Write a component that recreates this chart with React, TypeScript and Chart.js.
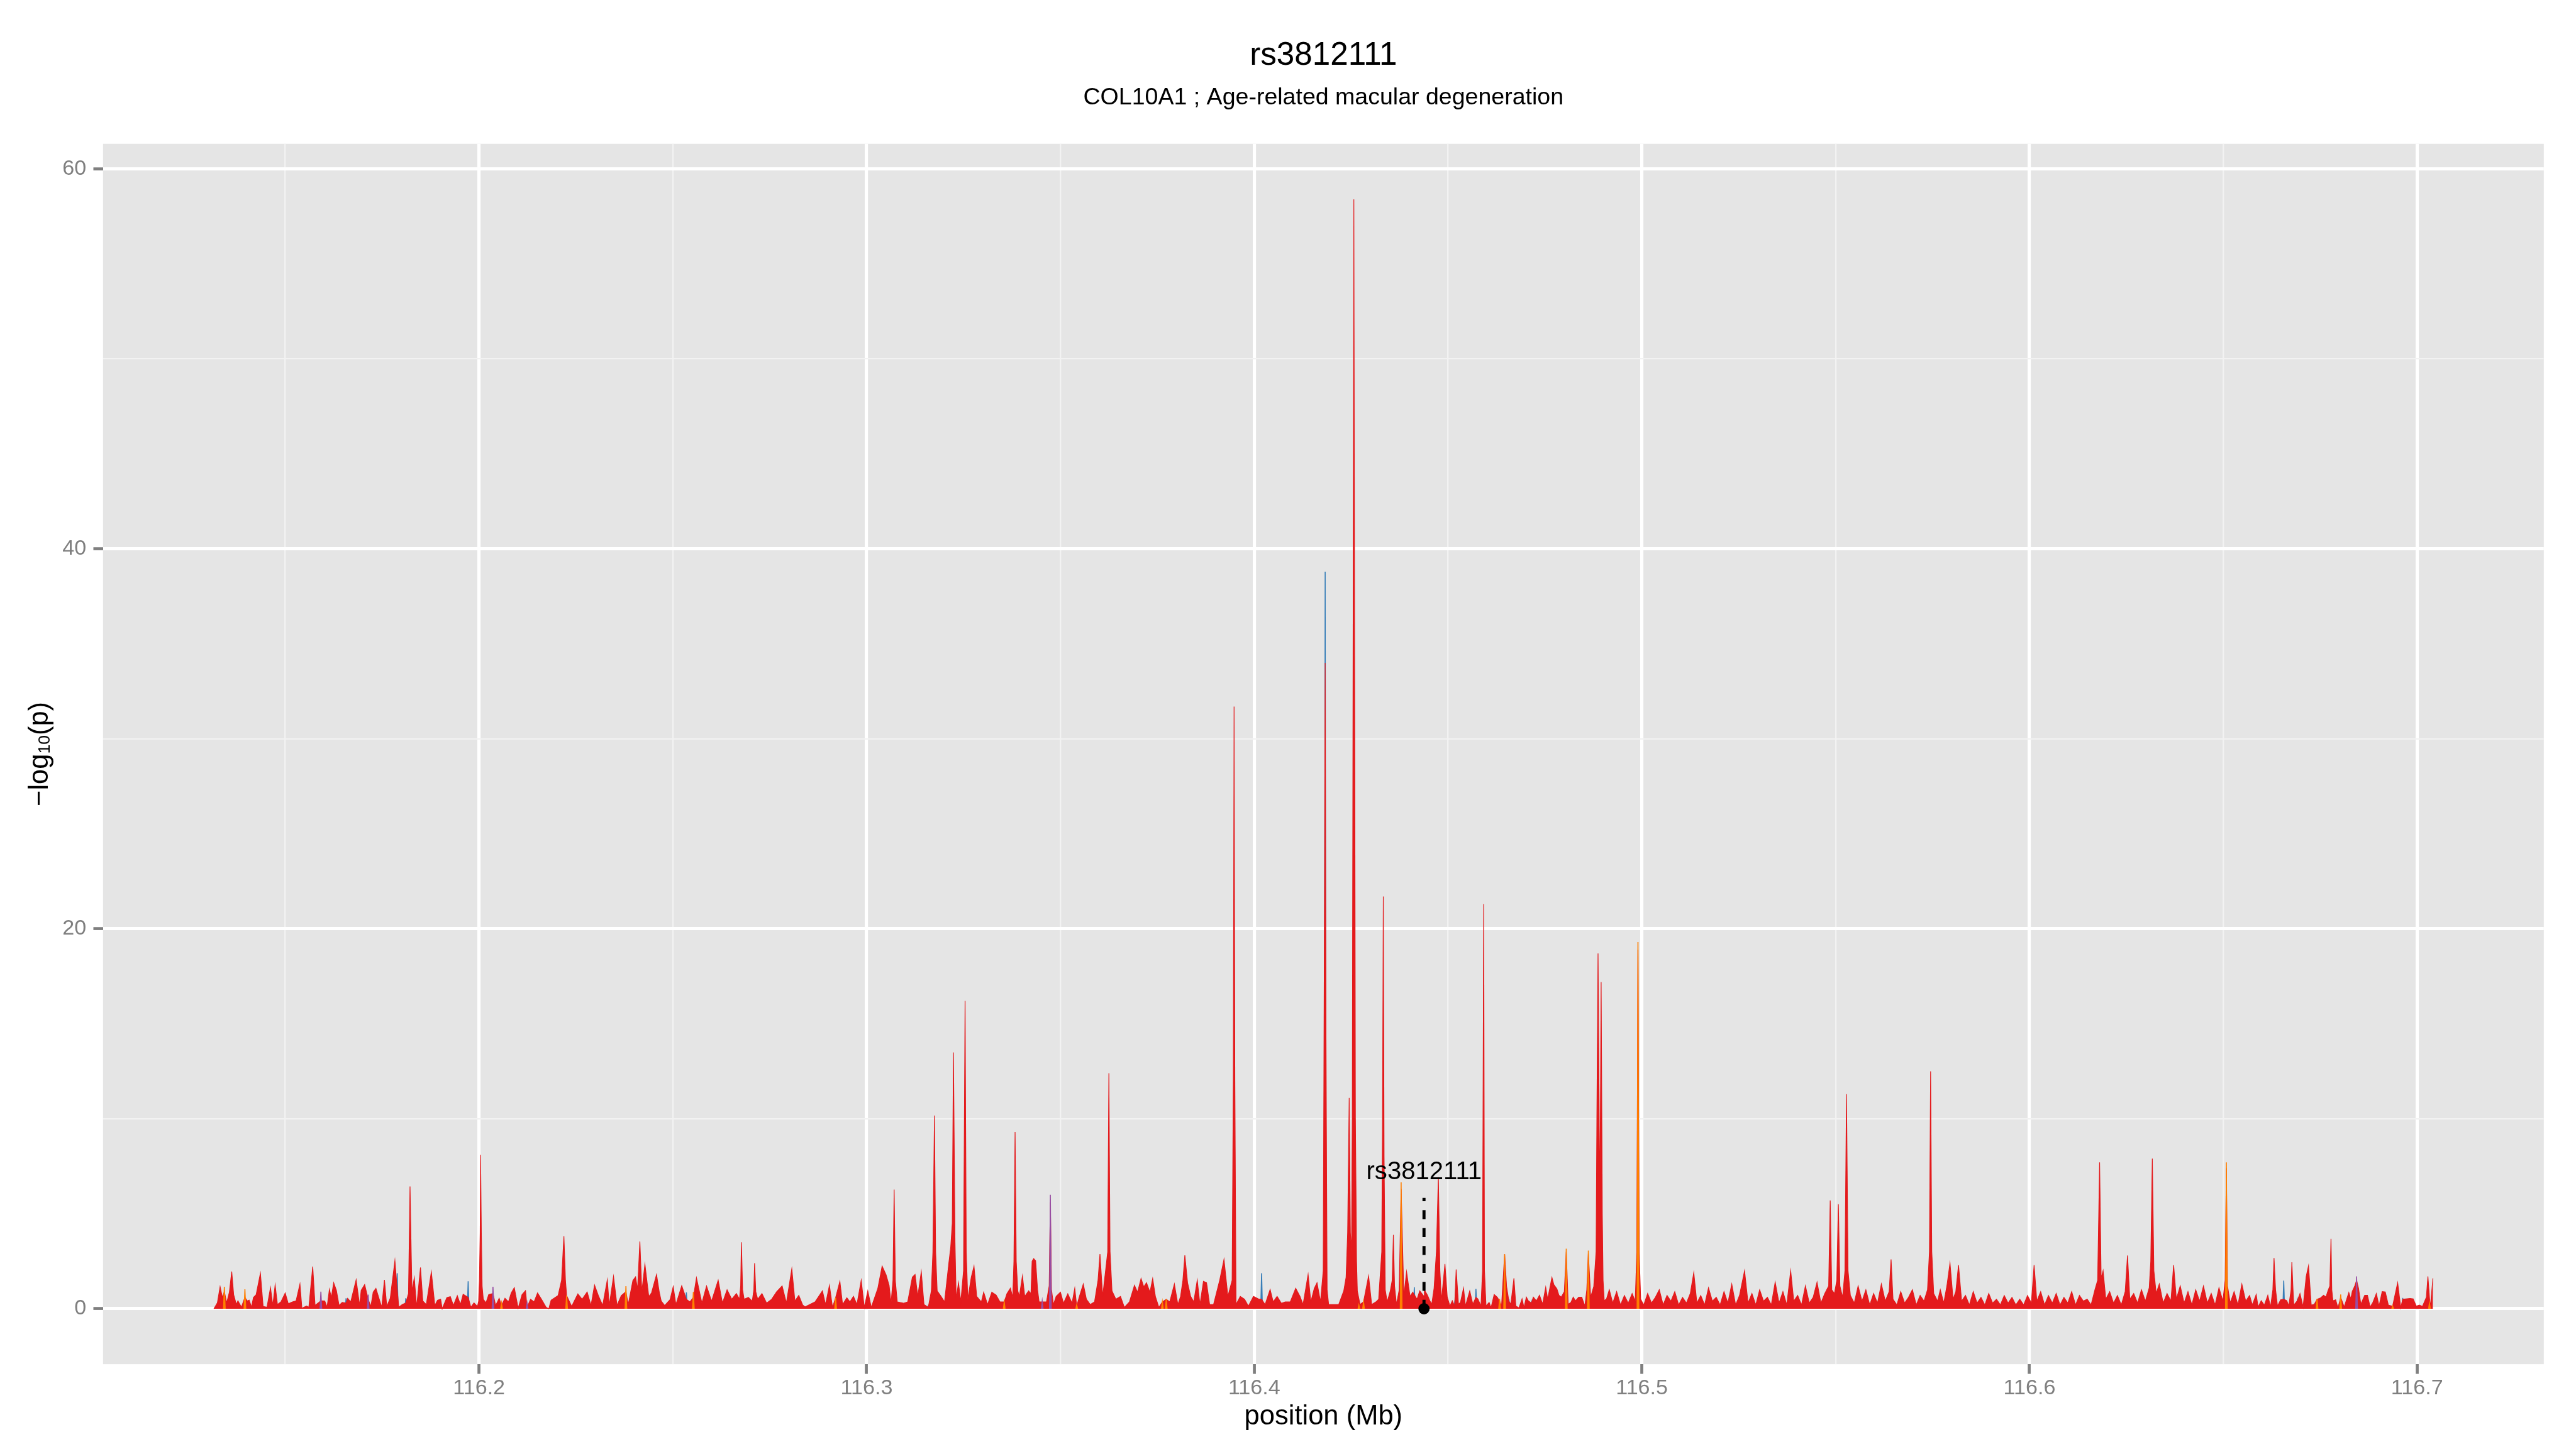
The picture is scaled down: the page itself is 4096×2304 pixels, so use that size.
import React, { useEffect, useRef } from "react";
import { Chart, registerables } from "chart.js";

Chart.register(...registerables);

// ---------- text ----------
const TITLE = "rs3812111";
const SUBTITLE = "COL10A1 ; Age-related macular degeneration";
const X_TITLE = "position (Mb)";
const Y_TITLE_MAIN = "\u2212log";
const Y_TITLE_SUB = "10";
const Y_TITLE_END = "(p)";

// ---------- axes ----------
const xMajorTicks = [116.2, 116.3, 116.4, 116.5, 116.6, 116.7];
const xMinorTicks = [116.15, 116.25, 116.35, 116.45, 116.55, 116.65];
const yMajorTicks = [0, 20, 40, 60];
const yMinorTicks = [10, 30, 50];
const xLimits = [116.103, 116.7327];
const yLimits = [-2.92, 61.32];

// ---------- highlighted SNP ----------
const snpName = "rs3812111";
const snpPos = 116.4438;
const snpLineTop = 5.83;
const snpLabelY = 6.82;

// ---------- main (red) series: position (Mb) and -log10(p) ----------
const redPos = [
  116.1316, 116.1325, 116.1332, 116.1338, 116.1343, 116.1349, 116.1356, 116.1362, 116.1367, 116.1374,
  116.1378, 116.1387, 116.1396, 116.1402, 116.1407, 116.1413, 116.1418, 116.1425, 116.1436, 116.1443,
  116.1453, 116.1462, 116.1468, 116.1474, 116.148, 116.1489, 116.15, 116.1508, 116.1519, 116.1528,
  116.1538, 116.1543, 116.1555, 116.1561, 116.1571, 116.1577, 116.1592, 116.1602, 116.1608, 116.1614,
  116.1619, 116.1625, 116.1632, 116.1639, 116.1647, 116.1657, 116.1661, 116.1669, 116.1683, 116.1692,
  116.1696, 116.1705, 116.1714, 116.1721, 116.1727, 116.1734, 116.1749, 116.1756, 116.1762, 116.1771,
  116.1783, 116.1789, 116.1793, 116.1802, 116.1811, 116.1818, 116.182, 116.1822, 116.1825, 116.1827,
  116.1833, 116.1839, 116.1849, 116.1855, 116.1864, 116.1877, 116.1886, 116.1893, 116.1901, 116.1905,
  116.1917, 116.1926, 116.1934, 116.1944, 116.1952, 116.1959, 116.1972, 116.1979, 116.1987, 116.1996,
  116.1999, 116.2001, 116.2003, 116.2004, 116.2006, 116.2008, 116.2011, 116.2018, 116.2025, 116.2036,
  116.2043, 116.2052, 116.2058, 116.2067, 116.2076, 116.2083, 116.2091, 116.2101, 116.2111, 116.212,
  116.2124, 116.2133, 116.2142, 116.2151, 116.2161, 116.2173, 116.218, 116.2186, 116.2204, 116.2213,
  116.2219, 116.2223, 116.2226, 116.2239, 116.2255, 116.2266, 116.2279, 116.2289, 116.2298, 116.2308,
  116.2319, 116.2331, 116.2336, 116.2347, 116.2356, 116.2367, 116.2379, 116.2385, 116.2397, 116.2404,
  116.2409, 116.2415, 116.242, 116.2428, 116.2438, 116.2445, 116.2458, 116.2465, 116.247, 116.2479,
  116.2493, 116.2501, 116.2508, 116.2523, 116.2535, 116.2544, 116.2553, 116.2561,
  116.2575, 116.2587, 116.26, 116.2617, 116.2628, 116.264, 116.2652, 116.2664, 116.2672, 116.2675,
  116.2677, 116.268, 116.2684, 116.2695, 116.2705, 116.2709, 116.2711, 116.2714, 116.2719, 116.273,
  116.2742, 116.2755, 116.2768, 116.2782, 116.2793, 116.2807, 116.2815, 116.2825, 116.2835,
  116.2841, 116.2867, 116.2886, 116.2894, 116.2904, 116.2912, 116.292, 116.2931, 116.2938, 116.2949,
  116.2957, 116.2966, 116.2975, 116.2986, 116.2994, 116.3003, 116.3012, 116.3029, 116.304, 116.305,
  116.3058, 116.3063, 116.3068, 116.3071, 116.3074, 116.3079, 116.3095, 116.3106, 116.3118, 116.3125,
  116.3132, 116.3141, 116.3148, 116.3159, 116.3167, 116.3171, 116.3175, 116.3178, 116.3182, 116.3192,
  116.3201, 116.3212, 116.3217, 116.3221, 116.3224, 116.3228, 116.3231, 116.3237, 116.3243, 116.325,
  116.3254, 116.3257, 116.3261, 116.327, 116.3277, 116.3284, 116.3296, 116.3302, 116.3312, 116.3323,
  116.3334, 116.3344, 116.3355, 116.3362, 116.3371, 116.3377, 116.338, 116.3383, 116.3386, 116.339,
  116.3394, 116.3402, 116.3408, 116.3418, 116.3424, 116.3427, 116.3431, 116.3436, 116.3441, 116.3445,
  116.3453, 116.3464, 116.3471, 116.3474, 116.3477, 116.3482, 116.3489, 116.35, 116.3508, 116.3519,
  116.353, 116.3537, 116.3542, 116.3549, 116.3559, 116.3567, 116.3577, 116.3588, 116.3597, 116.3602,
  116.3609, 116.3622, 116.3625, 116.3628, 116.3633, 116.3643, 116.3655, 116.3665, 116.3678, 116.3691,
  116.3699, 116.3708, 116.3715, 116.3722, 116.3731, 116.3738, 116.3745, 116.3754, 116.3763, 116.3773,
  116.3782, 116.3794, 116.3803, 116.381, 116.3816, 116.3821, 116.3828, 116.3836, 116.3844, 116.3853,
  116.386, 116.3869, 116.3877, 116.3885, 116.3895, 116.3911, 116.3922, 116.3932, 116.3943, 116.3946,
  116.3948, 116.395, 116.3953, 116.3964, 116.3975, 116.3985, 116.3998, 116.4012, 116.4019, 116.4028,
  116.4041, 116.4049, 116.4059, 116.407, 116.408, 116.4093, 116.4107, 116.4118, 116.4126, 116.4139,
  116.4146, 116.4155, 116.4162, 116.4171, 116.4178, 116.4181, 116.4183, 116.4185, 116.4188, 116.4192,
  116.4204, 116.4218, 116.4231, 116.4237, 116.4241, 116.4245, 116.4248, 116.4251, 116.4253, 116.4257,
  116.4261, 116.4264, 116.4266, 116.4273, 116.4282, 116.4295, 116.4303, 116.4314, 116.4321, 116.4329,
  116.4331, 116.4333, 116.4335, 116.4338, 116.4343, 116.4351, 116.4356, 116.4359, 116.4362, 116.4367,
  116.4374, 116.4379, 116.4386, 116.4393, 116.4402, 116.4409, 116.442, 116.4427, 116.4438,
  116.4439, 116.4447, 116.4453, 116.4458, 116.4464, 116.447, 116.4475, 116.4479, 116.4483, 116.4492,
  116.4498, 116.4505, 116.4511, 116.4517, 116.4521, 116.4527, 116.4532, 116.454, 116.4545, 116.4556,
  116.4564, 116.4572, 116.4577, 116.4585, 116.4589, 116.4592, 116.4594, 116.4598, 116.4606, 116.4611,
  116.4619, 116.4627, 116.4633, 116.4638, 116.4646, 116.4651, 116.4657, 116.4662, 116.467, 116.4675,
  116.4683, 116.4691, 116.4696, 116.4702, 116.4707, 116.4715, 116.472, 116.4728, 116.4736, 116.4744,
  116.4752, 116.4757, 116.4768, 116.4773, 116.4781, 116.4786, 116.4792, 116.48, 116.4805, 116.481,
  116.4817, 116.4823, 116.4829, 116.4837, 116.4845, 116.4853, 116.4858, 116.4862, 116.4868, 116.4876,
  116.4882, 116.4884, 116.4887, 116.489, 116.4891, 116.4893, 116.4895, 116.4898, 116.49, 116.4903,
  116.4909, 116.4916,
  116.4925, 116.4935, 116.4945, 116.4955, 116.4965, 116.4975, 116.4983, 116.4987, 116.499, 116.4993,
  116.4997, 116.5005, 116.5015, 116.5025, 116.5035, 116.5045, 116.5055, 116.5065, 116.5075, 116.5085,
  116.5095, 116.5105, 116.5115, 116.5125, 116.5134, 116.5142, 116.5152, 116.5162, 116.5172, 116.5182,
  116.5192, 116.5202, 116.5212, 116.5222, 116.5232, 116.5242, 116.5252, 116.5265, 116.5274, 116.5284,
  116.5294, 116.5304, 116.5314, 116.5324, 116.5334, 116.5344, 116.5354, 116.5364, 116.5374, 116.5384,
  116.5392, 116.5402, 116.5412, 116.5422, 116.5432, 116.5442, 116.5452, 116.5462, 116.5472, 116.5482,
  116.5486, 116.549, 116.5497, 116.5503, 116.5507, 116.5511, 116.5518, 116.5524, 116.5528, 116.5532,
  116.5538, 116.5548, 116.5558, 116.5568, 116.5578, 116.5588, 116.5598, 116.5608, 116.5618, 116.5628,
  116.5638, 116.5643, 116.5648, 116.5658, 116.5668, 116.5678, 116.5688, 116.5698, 116.5708, 116.5718,
  116.5728, 116.5737, 116.5742, 116.5745, 116.5748, 116.5753, 116.5763, 116.577, 116.5779, 116.5787,
  116.5795, 116.5803, 116.581, 116.5817, 116.5825, 116.5835, 116.5845, 116.5855, 116.5865, 116.5875,
  116.5885, 116.5895, 116.5905, 116.5915, 116.5925, 116.5935, 116.5945, 116.5955, 116.5965, 116.5975,
  116.5985, 116.5995, 116.6005, 116.6012, 116.6019, 116.6029, 116.6039, 116.6049, 116.6059, 116.6069,
  116.6079, 116.6089, 116.6099, 116.6109, 116.6119, 116.6129, 116.6139, 116.6149, 116.6159, 116.6169,
  116.6176, 116.6181, 116.6185, 116.619, 116.6197, 116.6207, 116.6217, 116.6227, 116.6237, 116.6247,
  116.6253, 116.6259, 116.6269, 116.6279, 116.6289, 116.6299, 116.6309, 116.6313, 116.6317, 116.6321,
  116.6327, 116.6335, 116.6345, 116.6355, 116.6365, 116.6372, 116.6379, 116.6389, 116.6399, 116.6409,
  116.6419, 116.6429, 116.6439, 116.6449, 116.6459, 116.6469, 116.6479, 116.6489, 116.6499, 116.6505,
  116.6508, 116.6511, 116.6518, 116.6528, 116.6538, 116.6548, 116.6558, 116.6568, 116.6575,
  116.6585, 116.659, 116.6598, 116.6606, 116.6615, 116.6622, 116.6628, 116.6631, 116.6635, 116.664,
  116.6648, 116.6656, 116.6664, 116.6669, 116.6675, 116.6677, 116.668, 116.6682, 116.6691, 116.6698,
  116.6706, 116.6714, 116.672, 116.6727, 116.6735, 116.6742, 116.6751, 116.6759, 116.6765, 116.677,
  116.6775, 116.6778, 116.678, 116.6783, 116.679, 116.6796, 116.6803, 116.6812, 116.6824, 116.6829,
  116.6833, 116.6839, 116.6844, 116.6849, 116.6855, 116.6865, 116.6872, 116.6879, 116.6886, 116.6895,
  116.6902, 116.691, 116.6918, 116.6926, 116.6937, 116.695, 116.6958, 116.6963, 116.6971, 116.6982,
  116.699, 116.6998, 116.7006, 116.7014, 116.7024, 116.7028, 116.7034, 116.7041,
];
const redVal = [
  0, 0.31, 1.16, 0.59, 0.9, 0.31, 0.88, 1.96, 0.74, 0.22,
  0.42, 0.08, 0.6, 0.41, 0.45, 0.08, 0.59, 0.74, 1.87, 0.12,
  0.08, 1.11, 0.17, 1.25, 0.22, 0.36, 0.83, 0.26, 0.36, 0.41,
  1.3, 0.03, 0.14, 0.08, 2.22, 0.17, 0.42, 0.41, 0.08, 1.02,
  0.59, 1.37, 0.97, 0.17, 0.33, 0.3, 0.55, 0.36, 1.52, 0.17,
  0.97, 1.27, 0.5, 0.12, 0.88, 1.07, 0.08, 1.52, 0.12, 0.55,
  2.53, 1.0, 0.08, 0.22, 0.3, 0.8, 3.5, 6.44, 3.0, 0.9,
  1.63, 0.08, 2.17, 0.41, 0.22, 1.94, 0.17, 0.45, 0.5, 0,
  0.59, 0.64, 0.17, 0.69, 0.22, 0.76, 0.6, 0.08, 0.31, 0.12,
  0.4, 1.5, 4.0, 8.1, 4.0, 1.2, 0.5, 0.31, 0.74, 0.8,
  0.17, 0.55, 0.17, 0.55, 0.36, 0.83, 1.11, 0.03, 0.74, 0.95,
  0.08, 0.5, 0.36, 0.83, 0.5, 0.08, 0, 0.45, 0.69, 1.5,
  3.82, 1.5, 0.69, 0.12, 0.78, 0.5, 0.88, 0.17, 1.25, 0.69,
  0.17, 1.52, 0.17, 1.7, 0.17, 0.69, 0.9, 0.22, 1.49, 1.68,
  1.0, 3.54, 0.88, 2.34, 0.64, 0.83, 1.8, 0.88, 0.41, 0.17,
  0.48, 1.16, 0.22, 1.21, 0.5, 0.36, 0.6, 1.63,
  0.3, 1.2, 0.4, 1.5, 0.3, 1.0, 0.5, 0.8, 0.5, 1.2,
  3.5, 1.0, 0.5, 0.6, 0.4, 1.0, 2.4, 0.9, 0.5, 0.8,
  0.3, 0.5, 0.9, 1.2, 0.3, 2.1, 0.4, 0.7, 0.2,
  0.1, 0.36, 0.94, 0.22, 1.23, 0.07, 0.58, 1.44, 0.22, 0.58,
  0.36, 0.65, 0.22, 1.49, 0.07, 0.94, 0.07, 1.08, 2.24, 1.8,
  1.23, 0.29, 1.5, 6.27, 1.5, 0.36, 0.29, 0.36, 1.66, 1.8,
  0.65, 1.95, 0.22, 0.07, 0.94, 3.0, 10.17, 3.0, 0.94, 0.65,
  0.36, 2.38, 3.25, 4.5, 13.49, 3.5, 0.5, 1.37, 0.36, 2.0,
  16.2, 3.0, 0.5, 1.66, 2.24, 0.65, 0.36, 0.87, 0.22, 0.87,
  0.72, 0.36, 0.36, 0.79, 1.08, 0.58, 2.5, 9.3, 2.5, 0.94,
  0.65, 1.73, 0.65, 0.94, 0.79, 2.5, 2.64, 2.52, 1.0, 0.36,
  0.36, 0.36, 1.2, 5.6, 1.0, 0.22, 0.65, 0.87, 0.29, 0.79,
  0.29, 1.08, 0.14, 0.65, 1.3, 0.5, 0.22, 0.36, 1.5, 2.88,
  0.65, 3.0, 12.4, 3.0, 0.94, 0.5, 0.65, 0.07, 0.36, 1.23,
  0.87, 1.59, 1.15, 1.37, 0.87, 1.59, 0.65, 0.07, 0.36, 0.5,
  0.36, 1.3, 0.22, 0.65, 1.5, 2.81, 1.37, 0.65, 0.36, 1.51,
  0.22, 1.44, 1.37, 0.22, 0.22, 1.51, 2.6, 0.65, 1.5, 12.0,
  31.7, 12.0, 0.22, 0.65, 0.5, 0.14, 0.65, 0.5, 0.5, 0.22,
  1.01, 0.36, 0.65, 0.29, 0.36, 0.36, 1.08, 0.65, 0.22, 1.8,
  0.36, 1.08, 1.37, 0.36, 2.0, 20.0, 34.0, 15.0, 1.0, 0.22,
  0.22, 0.22, 0.94, 1.66, 4.0, 11.1, 4.0, 3.0, 10.0, 58.4,
  10.0, 2.5, 0.94, 0.22, 0.36, 1.73, 0.22, 0.36, 0.5, 3.0,
  10.0, 21.7, 8.0, 1.0, 0.36, 0.94, 1.5, 3.89, 1.2, 0.22,
  1.0, 6.3, 0.65, 1.95, 0.65, 0.87, 0.5, 0.94, 0.65,
  0.99, 0.71, 0.42, 0.24, 1.08, 3.0, 6.93, 2.0, 0.42, 2.36,
  0.61, 0.14, 0.42, 0.14, 2.07, 0.24, 0.33, 1.08, 0.14, 0.94,
  0.24, 0.6, 0.52, 0.14, 2.0, 21.3, 2.0, 0.14, 0.33, 0.05,
  0.75, 0.61, 0.4, 0.14, 2.87, 1.18, 0.4, 0.24, 1.6, 0.14,
  0.05, 0.52, 0.05, 0.61, 0.42, 0.3, 0.61, 0.42, 0.71, 0.24,
  1.13, 0.5, 1.65, 1.27, 1.04, 0.71, 0.61, 0.9, 3.0, 0.24,
  0.33, 0.61, 0.42, 0.61, 0.61, 0.14, 1.0, 2.9, 0.61, 1.18,
  3.0, 10.0, 18.7, 10.0, 5.0, 10.0, 17.2, 5.0, 1.5, 0.42,
  0.52, 1.0,
  0.3, 0.9, 0.2, 0.7, 0.3, 0.8, 0.4, 3.0, 18.9, 3.0,
  0.5, 0.2, 0.8, 0.3, 0.6, 1.0, 0.2, 0.7, 0.4, 0.9,
  0.2, 0.6, 0.3, 0.8, 1.9, 0.3, 0.7, 0.2, 1.1, 0.4,
  0.6, 0.2, 0.9, 0.3, 1.3, 0.2, 0.7, 2.0, 0.3, 0.8,
  0.2, 1.0, 0.4, 0.6, 0.2, 1.4, 0.3, 0.9, 0.2, 2.0,
  0.4, 0.7, 0.2, 1.2, 0.3, 0.6, 1.4, 0.3, 0.8, 1.2,
  5.7, 1.0, 0.8, 1.5, 5.5, 1.2, 0.6, 2.0, 11.3, 2.0,
  0.7, 0.3, 1.2, 0.4, 1.0, 0.2, 0.8, 0.3, 1.3, 0.4,
  0.9, 2.6, 0.5, 0.2, 0.9, 0.3, 0.6, 1.0, 0.2, 0.7,
  0.4, 1.0, 3.0, 12.5, 3.0, 0.8, 0.4, 1.0, 0.3, 1.2,
  2.4, 0.5, 0.9, 2.3, 0.4, 0.7, 0.2, 0.9, 0.3, 0.6,
  0.2, 0.8, 0.3, 0.5, 0.2, 0.7, 0.3, 0.6, 0.2, 0.5,
  0.2, 0.7, 0.3, 2.3, 0.4, 0.9, 0.2, 0.7, 0.3, 0.8,
  0.2, 0.6, 0.3, 0.9, 0.2, 0.7, 0.4, 0.5, 0.2, 1.0,
  1.5, 7.7, 1.6, 2.0, 0.5, 0.9, 0.3, 0.7, 0.2, 0.9,
  2.8, 0.5, 0.8, 0.3, 1.0, 0.4, 1.1, 2.5, 7.9, 2.0,
  0.8, 1.3, 0.3, 0.8, 0.4, 2.3, 0.5, 1.2, 0.3, 0.9,
  0.2, 1.0, 0.4, 1.2, 0.3, 0.8, 0.2, 1.1, 0.4, 1.5,
  7.4, 1.2, 0.3, 0.9, 0.2, 1.3, 0.4, 0.7, 0.2,
  0.75, 0.09, 0.42, 0.19, 0.71, 0.09, 1.0, 2.67, 1.0, 0.14,
  0.47, 0.5, 0.42, 0.14, 1.0, 2.45, 1.0, 0.19, 0.42, 0.8,
  0.09, 1.7, 2.26, 0.19, 0.24, 0.5, 0.57, 0.71, 0.61, 0.94,
  1.2, 3.68, 1.0, 0.42, 0.47, 0.05, 0.6, 0.09, 0.85, 0.52,
  0.92, 1.18, 1.5, 1.08, 0.24, 0.71, 0.71, 0.09, 0.33, 0.8,
  0.14, 0.9, 0.88, 0.19, 0.14, 1.37, 0.05, 0.5, 0.52, 0.54,
  0.52, 0.14, 0.19, 0.12, 0.6, 1.7, 0.05, 1.6,
];

// ---------- other LD classes (spikes) ----------
const bluePos = [116.1657, 116.1789, 116.1811, 116.1972, 116.2535, 116.3159, 116.3953, 116.4019, 116.4183, 116.4413,
  116.4517, 116.4572, 116.4657, 116.4715, 116.4757, 116.6656, 116.6691, 116.679, 116.6963];
const blueVal = [0.55, 1.87, 0.55, 1.45, 0.86, 0.15, 0.3, 1.87, 38.8, 1.13,
  0.3, 1.04, 0.52, 0.33, 0.61, 1.48, 0.42, 0.47, 0.57];

const purplePos = [116.1592, 116.1714, 116.2036, 116.2124, 116.3453, 116.3474, 116.6844];
const purpleVal = [0.9, 0.74, 1.16, 0.3, 0.4, 6.0, 1.7];

const orangePos = [116.1343, 116.1396, 116.2058, 116.2226, 116.2379, 116.2553, 116.292, 116.3355, 116.3542, 116.3763,
  116.3773, 116.427, 116.4282, 116.4379, 116.4633, 116.4646, 116.4805, 116.4862, 116.499, 116.6508,
  116.6742, 116.6803, 116.6937, 116.7032];
const orangeVal = [1.16, 1.02, 0.3, 0.7, 1.19, 0.88, 0.58, 0.36, 0.2, 0.36,
  0.5, 0.2, 0.36, 6.65, 0.52, 2.87, 3.16, 3.06, 19.3, 7.7,
  0.52, 0.75, 0.14, 0.3];

// ---------- styling ----------
const K = 4096 / 4800;
const FONT = '"Liberation Sans", Arial, Helvetica, sans-serif';
const RED = "#E41A1C";
const BLUE = "#377EB8";
const PURPLE = "#984EA3";
const ORANGE = "#FF7F00";
const GREY_TEXT = "#7F7F7F";
const PANEL_BG = "#E5E5E5";
const AREA = { left: 192 * K, right: 4740 * K, top: 268 * K, bottom: 2542 * K };
const SPIKE_HALF = 0.00022;

function isIn(v: number, list: number[]) {
  return list.some((m) => Math.abs(m - v) < 1e-6);
}

function spikeData(pos: number[], val: number[]) {
  const out: { x: number; y: number | null }[] = [];
  pos.forEach((p, i) => {
    out.push({ x: p - SPIKE_HALF, y: 0 });
    out.push({ x: p, y: val[i] });
    out.push({ x: p + SPIKE_HALF, y: 0 });
    out.push({ x: p + SPIKE_HALF * 1.5, y: null });
  });
  return out;
}

const decorPlugin = {
  id: "decor",
  beforeDraw(chart: any) {
    const { ctx, chartArea: a } = chart;
    ctx.save();
    ctx.fillStyle = PANEL_BG;
    ctx.fillRect(a.left, a.top, a.right - a.left, a.bottom - a.top);
    ctx.restore();
  },
  afterDatasetsDraw(chart: any) {
    const { ctx } = chart;
    const xs = chart.scales.x;
    const ys = chart.scales.y;
    const px = xs.getPixelForValue(snpPos);
    const y0 = ys.getPixelForValue(0);
    const y1 = ys.getPixelForValue(snpLineTop);
    ctx.save();
    ctx.strokeStyle = "#000";
    ctx.lineWidth = 5.7 * K;
    ctx.setLineDash([16.7 * K, 16.7 * K]);
    ctx.beginPath();
    ctx.moveTo(px, y0);
    ctx.lineTo(px, y1);
    ctx.stroke();
    ctx.setLineDash([]);
    ctx.fillStyle = "#000";
    ctx.beginPath();
    ctx.arc(px, y0, 10.5 * K, 0, Math.PI * 2);
    ctx.fill();
    ctx.font = `${47 * K}px ${FONT}`;
    ctx.textAlign = "center";
    ctx.textBaseline = "alphabetic";
    ctx.fillText(snpName, px, ys.getPixelForValue(snpLabelY));
    ctx.restore();
  },
  afterDraw(chart: any) {
    const { ctx, chartArea: a } = chart;
    const cx = (a.left + a.right) / 2;
    const cy = (a.top + a.bottom) / 2;
    ctx.save();
    ctx.fillStyle = "#000";
    ctx.textAlign = "center";
    ctx.textBaseline = "alphabetic";
    ctx.font = `${60 * K}px ${FONT}`;
    ctx.fillText(TITLE, cx, 121 * K);
    ctx.font = `${44 * K}px ${FONT}`;
    ctx.fillText(SUBTITLE, cx, 194.5 * K);
    ctx.font = `${51 * K}px ${FONT}`;
    ctx.fillText(X_TITLE, cx, 2654 * K);

    // rotated y title with subscript
    const big = `${51 * K}px ${FONT}`;
    const small = `${31 * K}px ${FONT}`;
    ctx.font = big;
    const w1 = ctx.measureText(Y_TITLE_MAIN).width;
    const w3 = ctx.measureText(Y_TITLE_END).width;
    ctx.font = small;
    const w2 = ctx.measureText(Y_TITLE_SUB).width;
    const total = w1 + w2 + w3;
    ctx.translate(89 * K, cy);
    ctx.rotate(-Math.PI / 2);
    ctx.textAlign = "left";
    let u = -total / 2;
    ctx.font = big;
    ctx.fillText(Y_TITLE_MAIN, u, 0);
    u += w1;
    ctx.font = small;
    ctx.fillText(Y_TITLE_SUB, u, 3 * K);
    u += w2;
    ctx.font = big;
    ctx.fillText(Y_TITLE_END, u, 0);
    ctx.restore();
  },
};

export default function App() {
  const ref = useRef<HTMLCanvasElement>(null);

  useEffect(() => {
    const canvas = ref.current;
    if (!canvas) return;
    const redData = redPos.map((p, i) => ({ x: p, y: redVal[i] }));
    const gridColor = (list: number[]) => (c: any) =>
      c.tick && isIn(c.tick.value, list) ? "#FFFFFF" : "#F2F2F2";
    const gridWidth = (list: number[]) => (c: any) =>
      c.tick && isIn(c.tick.value, list) ? 6 * K : 2.7 * K;
    const tickColor = (list: number[]) => (c: any) =>
      c.tick && isIn(c.tick.value, list) ? GREY_TEXT : "rgba(0,0,0,0)";
    const spikeSet = (label: string, pos: number[], val: number[], color: string, order: number) => ({
      label,
      data: spikeData(pos, val),
      borderWidth: 1.6,
      backgroundColor: color,
      borderColor: color,
      fill: "origin",
      pointRadius: 0,
      spanGaps: false,
      tension: 0,
      order,
    });

    const chart = new Chart(canvas, {
      type: "line",
      data: {
        datasets: [
          spikeSet("r2 high", orangePos, orangeVal, ORANGE, 1),
          spikeSet("r2 mid", purplePos, purpleVal, PURPLE, 2),
          spikeSet("r2 low", bluePos, blueVal, BLUE, 20),
          {
            label: "other",
            data: redData,
            borderWidth: 1.2,
            backgroundColor: RED,
            borderColor: RED,
            fill: "origin",
            pointRadius: 0,
            tension: 0,
            order: 10,
          },
        ],
      },
      options: {
        responsive: false,
        animation: false,
        devicePixelRatio: 1,
        events: [],
        layout: {
          padding: { left: 0, top: AREA.top, right: 4096 - AREA.right, bottom: 0 },
        },
        plugins: {
          legend: { display: false },
          title: { display: false },
          tooltip: { enabled: false },
        },
        scales: {
          x: {
            type: "linear",
            min: xLimits[0],
            max: xLimits[1],
            afterFit: (s: any) => {
              s.height = 2304 - AREA.bottom;
            },
            afterBuildTicks: (s: any) => {
              s.ticks = [...xMajorTicks, ...xMinorTicks]
                .sort((a, b) => a - b)
                .map((v) => ({ value: v }));
            },
            grid: {
              color: gridColor(xMajorTicks),
              lineWidth: gridWidth(xMajorTicks),
              drawTicks: true,
              tickLength: 18 * K,
              tickWidth: 5.5 * K,
              tickColor: tickColor(xMajorTicks),
              offset: false,
            },
            border: { display: false },
            ticks: {
              autoSkip: false,
              maxRotation: 0,
              minRotation: 0,
              padding: 2.5,
              color: GREY_TEXT,
              font: { family: FONT, size: 40 * K },
              callback: (v: any) => (isIn(Number(v), xMajorTicks) ? Number(v).toFixed(1) : ""),
            },
          },
          y: {
            type: "linear",
            min: yLimits[0],
            max: yLimits[1],
            afterFit: (s: any) => {
              s.width = AREA.left;
            },
            afterBuildTicks: (s: any) => {
              s.ticks = [...yMajorTicks, ...yMinorTicks]
                .sort((a, b) => a - b)
                .map((v) => ({ value: v }));
            },
            grid: {
              color: gridColor(yMajorTicks),
              lineWidth: gridWidth(yMajorTicks),
              drawTicks: true,
              tickLength: 18 * K,
              tickWidth: 5.5 * K,
              tickColor: tickColor(yMajorTicks),
              offset: false,
            },
            border: { display: false },
            ticks: {
              autoSkip: false,
              padding: AREA.left - 18 * K - 160.7 * K,
              color: GREY_TEXT,
              font: { family: FONT, size: 40 * K },
              callback: (v: any) => (isIn(Number(v), yMajorTicks) ? String(Number(v)) : ""),
            },
          },
        },
      } as any,
      plugins: [decorPlugin],
    });
    return () => chart.destroy();
  }, []);

  return (
    <div style={{ position: "fixed", left: 0, top: 0, width: 4096, height: 2304, background: "#FFFFFF" }}>
      <canvas ref={ref} width={4096} height={2304} style={{ display: "block", width: 4096, height: 2304 }} />
    </div>
  );
}
